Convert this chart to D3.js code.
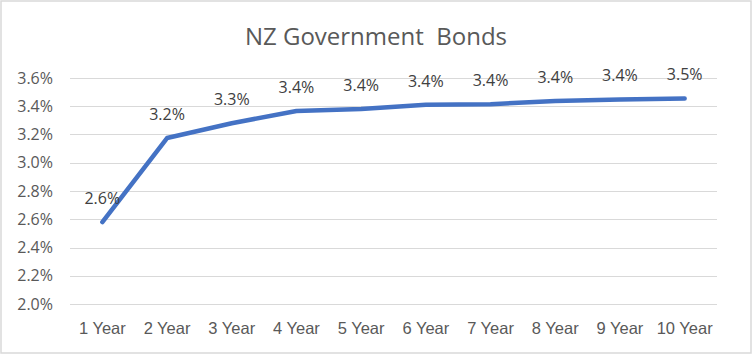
<!DOCTYPE html>
<html><head><meta charset="utf-8">
<script src="https://cdn.jsdelivr.net/npm/d3@7"></script>
<style>body{margin:0;background:#fff}svg{display:block}</style>
</head><body><svg id="c" width="752" height="354"></svg>
<script>
const categories = ["1 Year","2 Year","3 Year","4 Year","5 Year","6 Year","7 Year","8 Year","9 Year","10 Year"];
const yields = [2.58, 3.175, 3.28, 3.366, 3.38, 3.41, 3.415, 3.437, 3.448, 3.455];
const yTicks = [2.0, 2.2, 2.4, 2.6, 2.8, 3.0, 3.2, 3.4, 3.6];
const title = "NZ Government  Bonds";

const svg = d3.select("#c");
const W = 752, H = 354;
const m = {left: 70, right: 35, top: 78, bottom: 50};
svg.append("rect").attr("x",1).attr("y",1).attr("width",W-2).attr("height",H-2)
  .attr("fill","#fff").attr("stroke","#d9d9d9").attr("stroke-width",1.5);

const x = d3.scaleBand().domain(categories).range([m.left, W-m.right]);
const y = d3.scaleLinear().domain([2.0, 3.6]).range([H-m.bottom, m.top]);

const grid = svg.append("g");
grid.selectAll("line").data(yTicks).join("line")
  .attr("x1", m.left).attr("x2", W-m.right)
  .attr("y1", d=>Math.round(y(d))+0.5).attr("y2", d=>Math.round(y(d))+0.5)
  .attr("stroke","#d9d9d9").attr("stroke-width",1);

const yAxis = svg.append("g").attr("transform",`translate(${m.left},0)`)
  .call(d3.axisLeft(y).tickValues(yTicks).tickFormat(d=>d.toFixed(1)+"%").tickSize(0).tickPadding(17));
yAxis.select(".domain").remove();
yAxis.selectAll("text").attr("fill","#595959").style("font-family","'Open Sans', sans-serif").style("font-size","16px");

const xAxis = svg.append("g").attr("transform",`translate(0,${H-m.bottom})`)
  .call(d3.axisBottom(x).tickSize(0).tickPadding(18));
xAxis.select(".domain").remove();
xAxis.selectAll("text").attr("fill","#595959").style("font-family","'Liberation Sans Narrow','Liberation Sans',sans-serif").style("font-size","16.5px");

const line = d3.line().x((d,i)=>x(categories[i])+x.bandwidth()/2).y(d=>y(d));
svg.append("path").datum(yields).attr("d", line).attr("fill","none")
  .attr("stroke","#4472c4").attr("stroke-width",4.5).attr("stroke-linecap","round").attr("stroke-linejoin","round");

svg.append("g").selectAll("text").data(yields).join("text")
  .attr("x",(d,i)=>x(categories[i])+x.bandwidth()/2)
  .attr("y",d=>y(d)-18)
  .attr("text-anchor","middle").attr("fill","#404040")
  .style("font-family","'Open Sans', sans-serif").style("font-size","16px")
  .text(d=>d.toFixed(1)+"%");

svg.append("text").attr("x",376).attr("y",45).attr("text-anchor","middle")
  .attr("fill","#595959").style("font-family","'Open Sans', sans-serif").style("font-size","24px")
  .style("white-space","pre").attr("xml:space","preserve")
  .text(title);
</script></body></html>
